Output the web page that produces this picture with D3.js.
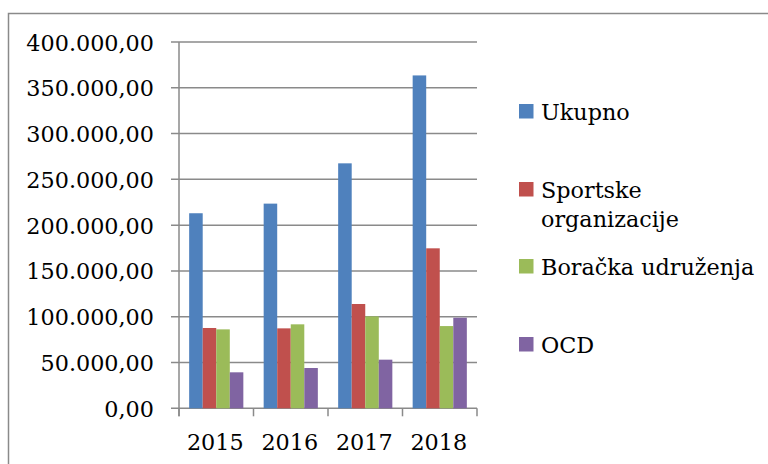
<!DOCTYPE html>
<html>
<head>
<meta charset="utf-8">
<script src="https://cdn.jsdelivr.net/npm/d3@7"></script>
<style>
  body { margin: 0; background: #fff; }
  svg { display: block; }
  text { font-family: "DejaVu Serif", serif; fill: #000; }
</style>
</head>
<body>
<div id="chart"></div>
<script>
const years = ["2015", "2016", "2017", "2018"];
const seriesNames = ["Ukupno", "Sportske organizacije", "Boračka udruženja", "OCD"];
const ukupno = [213000, 223500, 267500, 363500];
const sportske = [87700, 87300, 113900, 174700];
const boracka = [86200, 91700, 100400, 89800];
const ocd = [39300, 44000, 53100, 98900];
const yTicks = [0, 50000, 100000, 150000, 200000, 250000, 300000, 350000, 400000];

const colors = ["#4F81BD", "#C0504D", "#9BBB59", "#8064A2"];
const series = [ukupno, sportske, boracka, ocd];

const W = 768, H = 464;
const plot = {left: 179, right: 477, top: 42, bottom: 408.3};
const gridColor = "#8a8a8a";
const fontSize = 22.3;

const svg = d3.select("#chart").append("svg")
    .attr("width", W)
    .attr("height", H);

// outer frame (runs off the right/bottom edge like in the source)
svg.append("rect")
    .attr("x", 8.5).attr("y", 13.5)
    .attr("width", 800).attr("height", 500)
    .attr("fill", "none")
    .attr("stroke", gridColor)
    .attr("stroke-width", 1.5);

const locale = d3.formatLocale({decimal: ",", thousands: ".", grouping: [3], currency: ["", ""]});
const fmt = locale.format(",.2f");

const x = d3.scaleBand().domain(years).range([plot.left, plot.right]);
const xInner = d3.scaleBand().domain(d3.range(4)).range([0, x.bandwidth()]).paddingOuter(0.75);
const y = d3.scaleLinear().domain([0, 400000]).range([plot.bottom, plot.top]);

// gridlines + y ticks
svg.append("g")
    .selectAll("line")
    .data(yTicks)
    .enter()
    .append("line")
    .attr("x1", plot.left - 8)
    .attr("x2", plot.right)
    .attr("y1", (d) => y(d))
    .attr("y2", (d) => y(d))
    .attr("stroke", gridColor)
    .attr("stroke-width", 1.5);

svg.append("g")
    .selectAll("text")
    .data(yTicks)
    .enter()
    .append("text")
    .attr("x", 154)
    .attr("y", (d) => y(d) + 8.5)
    .attr("text-anchor", "end")
    .attr("font-size", fontSize)
    .text((d) => fmt(d));

// bars
const groups = svg.append("g")
    .selectAll("g")
    .data(years)
    .enter()
    .append("g")
    .attr("transform", (d) => "translate(" + x(d) + ",0)");

groups.selectAll("rect")
    .data((d, i) => series.map((s, k) => ({k: k, v: s[i]})))
    .enter()
    .append("rect")
    .attr("x", (d) => xInner(d.k))
    .attr("y", (d) => y(d.v))
    .attr("width", xInner.bandwidth())
    .attr("height", (d) => plot.bottom - y(d.v))
    .attr("fill", (d) => colors[d.k]);

// axes lines
svg.append("line")
    .attr("x1", plot.left).attr("x2", plot.left)
    .attr("y1", plot.top).attr("y2", plot.bottom + 8)
    .attr("stroke", gridColor).attr("stroke-width", 1.5);

svg.append("g")
    .selectAll("line")
    .data(years.concat(["end"]))
    .enter()
    .append("line")
    .attr("x1", (d) => d === "end" ? plot.right : x(d))
    .attr("x2", (d) => d === "end" ? plot.right : x(d))
    .attr("y1", plot.bottom)
    .attr("y2", plot.bottom + 8)
    .attr("stroke", gridColor).attr("stroke-width", 1.5);

svg.append("g")
    .selectAll("text")
    .data(years)
    .enter()
    .append("text")
    .attr("x", (d) => x(d) + x.bandwidth() / 2 - 1)
    .attr("y", 450)
    .attr("text-anchor", "middle")
    .attr("font-size", fontSize)
    .text((d) => d);

// legend
const legendY = [120, 198, 275, 353];
const legend = svg.append("g")
    .selectAll("g")
    .data(seriesNames)
    .enter()
    .append("g")
    .attr("transform", (d, i) => "translate(519," + legendY[i] + ")");

legend.append("rect")
    .attr("x", 0).attr("y", -16)
    .attr("width", 14.5).attr("height", 14.5)
    .attr("fill", (d, i) => colors[i]);

legend.append("text")
    .attr("x", 22)
    .attr("y", 0)
    .attr("font-size", fontSize)
    .each(function(d) {
        const parts = d === "Sportske organizacije" ? ["Sportske", "organizacije"] : [d];
        d3.select(this).selectAll("tspan")
            .data(parts)
            .enter()
            .append("tspan")
            .attr("x", 22)
            .attr("dy", (p, j) => j === 0 ? 0 : 28.5)
            .text((p) => p);
    });
</script>
</body>
</html>
